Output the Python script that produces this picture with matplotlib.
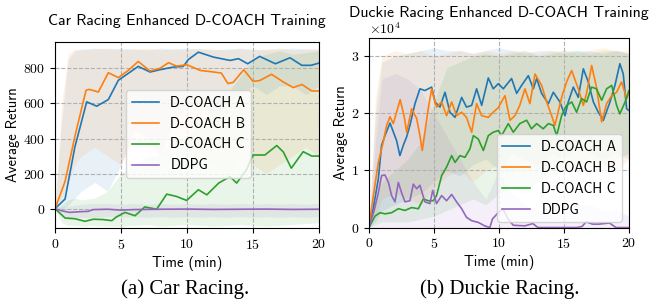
import numpy as np
import matplotlib as mpl
mpl.use("Agg")
import matplotlib.pyplot as plt

p = plt.rcParams
p["font.family"] = "cmr10"
p["mathtext.fontset"] = "cm"
p["axes.formatter.use_mathtext"] = True
p["axes.unicode_minus"] = False
p["font.size"] = 10

SANS = "cmss10"
C_A, C_B, C_C, C_D = "#1f77b4", "#ff7f0e", "#2ca02c", "#9467bd"
labels = ["D-COACH A", "D-COACH B", "D-COACH C", "DDPG"]

# ---- Car Racing (left) ----
car_t_a = [0, 0.76, 1.5, 2.4, 3.16, 4.04, 4.8, 5.7, 6.3, 7.2, 7.95, 8.96, 9.72, 10.1, 10.86,
           12, 13.26, 13.9, 14.6, 15.5, 16.7, 17.8, 18.7, 19.4, 20]
car_a = [0, 55, 350, 609, 584, 622, 732, 779, 811, 779, 792, 807, 811, 850, 892,
         864, 845, 855, 826, 868, 826, 860, 817, 817, 830]
car_t_b = [0, 0.76, 1.5, 2.35, 2.6, 3.28, 4.04, 4.8, 5.55, 6.3, 7.2, 7.95, 8.6, 9.2, 10,
           11, 12, 12.6, 13.1, 13.5, 14.3, 15.0, 15.5, 16.4, 17.3, 18.05, 18.7, 19.45, 20]
car_b = [0, 155, 410, 675, 680, 665, 775, 747, 788, 839, 785, 800, 832, 813, 820,
         788, 779, 773, 713, 720, 792, 726, 730, 766, 722, 690, 708, 671, 671]
car_t_c = [0, 0.76, 1.5, 2.27, 2.9, 3.66, 4.3, 4.65, 5.3, 6.06, 6.8, 7.7, 8.46, 9.2, 9.97,
           10.86, 11.5, 12.4, 13.26, 13.76, 14.5, 15.0, 15.9, 16.8, 17.3, 17.9, 18.8, 19.45, 20]
car_c = [0, -53, -57, -72, -60, -62, -68, -47, -21, -40, 10, -3, 83, 70, 47,
         108, 79, 146, 183, 146, 221, 306, 306, 360, 323, 231, 325, 300, 300]
car_t_d = [0, 0.5, 1.1, 1.9, 2.5, 2.9, 4, 5, 6, 8, 10, 12, 14, 16, 18, 20]
car_d = [0, -12, -21, -17, -15, -5, -3, -8, -5, -3, -2, -4, -3, -2, -4, -3]

car_tb = [0, 0.5, 1, 1.5, 2, 3, 4, 5, 6, 7, 8, 9, 10, 11, 12, 13, 14, 15, 16, 17, 18, 19, 20]
car_a_hi = [0, 500, 850, 900, 910, 915, 910, 915, 910, 905, 915, 910, 915, 910, 905, 910, 915, 910, 905, 910, 915, 910, 905]
car_a_lo = [0, 0, 20, 60, 100, 150, 100, 250, 450, 400, 300, 500, 600, 650, 500, 600, 650, 700, 650, 700, 700, 650, 700]
car_b_hi = [0, 600, 880, 910, 905, 910, 915, 905, 910, 915, 905, 910, 905, 915, 910, 905, 910, 905, 910, 915, 905, 910, 915]
car_b_lo = [0, 50, 150, 250, 300, 350, 300, 250, 400, 350, 300, 350, 400, 300, 250, 200, 300, 250, 200, 250, 300, 350, 300]
car_c_hi = [0, 20, 50, 60, 50, 60, 100, 200, 250, 300, 300, 400, 400, 500, 550, 650, 750, 850, 880, 900, 880, 890, 900]
car_c_lo = [0, -80, -95, -95, -100, -95, -100, -100, -95, -90, -100, -95, -90, -95, -100, -95, -90, -95, -100, -95, -90, -85, -80]
car_d_hi = [0, 10, 15, 20, 25, 30, 30, 25, 30, 25, 30, 25, 30, 25, 30, 25, 30, 25, 30, 25, 30, 25, 30]
car_d_lo = [0, -40, -60, -55, -50, -50, -45, -50, -45, -50, -45, -50, -45, -50, -45, -50, -45, -50, -45, -50, -45, -50, -45]

# ---- Duckie Racing (right), values in units of 1e4 ----
dk_t_a = [0, 0.3, 0.72, 0.97, 1.23, 1.62, 2.13, 2.38, 2.64, 2.9, 3.15, 3.54, 3.92, 4.3, 4.82,
          5.08, 5.46, 5.85, 6.23, 6.62, 7.13, 7.5, 7.9, 8.28, 8.67, 9.18, 9.56, 9.95, 10.33,
          10.97, 11.36, 11.74, 12.26, 12.64, 12.9, 13.28, 13.8, 14.18, 14.69, 15.08, 15.33,
          15.72, 16.1, 16.49, 16.87, 17.26, 17.64, 18.03, 18.54, 18.92, 19.3, 19.56, 19.82, 20]
dk_a = [0, 0.3, 0.85, 1.44, 1.61, 1.83, 1.52, 1.26, 1.44, 1.59, 1.79, 2.17, 2.43, 2.4, 2.46,
        2.2, 2.11, 2.37, 2.02, 1.93, 2.28, 2.11, 2.14, 2.43, 2.14, 2.62, 2.43, 2.52, 2.43,
        2.61, 2.35, 2.49, 2.66, 2.43, 2.61, 2.35, 2.17, 2.37, 2.2, 1.96, 2.2,
        2.46, 2.28, 2.78, 2.55, 2.2, 2.02, 1.88, 2.2, 2.49, 2.87, 2.69, 2.08, 2.05]
dk_t_b = [0, 0.3, 0.72, 1.1, 1.36, 1.62, 1.87, 2.4, 2.7, 2.9, 3.28, 3.67, 3.92, 4.1, 4.56,
          4.82, 5.2, 5.59, 5.97, 6.36, 6.74, 7.13, 7.5, 7.9, 8.28, 8.67, 9.18, 9.56, 9.95,
          10.46, 10.85, 11.23, 11.6, 12.0, 12.38, 12.77, 13.28, 13.67, 14.05, 14.3, 14.82,
          15.2, 15.59, 16.1, 16.49, 16.74, 17.13, 17.5, 17.9, 18.28, 18.67, 19.05, 19.43, 19.82, 20]
dk_b = [0, 0.5, 1.14, 1.5, 1.79, 1.94, 1.82, 2.24, 1.96, 1.67, 2.08, 1.91, 1.61, 1.35, 2.08,
        2.43, 2.11, 2.2, 1.96, 2.2, 1.96, 2.02, 1.93, 1.67, 2.17, 1.96, 1.93, 2.02, 2.1,
        2.31, 1.88, 1.96, 2.14, 2.43, 2.17, 2.69, 2.49, 2.2, 1.96, 1.79, 2.28,
        2.55, 2.75, 2.43, 2.14, 2.35, 2.84, 2.46, 1.85, 2.17, 2.31, 2.37, 2.55, 2.26, 2.35]
dk_t_c = [0, 0.46, 0.85, 1.23, 1.74, 2.26, 2.77, 3.28, 3.8, 4.18, 4.56, 4.95, 5.2, 5.59, 5.97,
          6.36, 6.62, 7.0, 7.38, 7.77, 8.03, 8.41, 8.8, 9.18, 9.56, 9.95, 10.2, 10.72, 11.1,
          11.6, 12.13, 12.5, 12.9, 13.4, 13.8, 14.18, 14.44, 14.82, 15.2, 15.6, 15.97, 16.36,
          16.74, 17.13, 17.5, 17.9, 18.28, 18.67, 19.05, 19.3, 19.7, 20]
dk_c = [0, 0.2, 0.26, 0.24, 0.26, 0.33, 0.3, 0.35, 0.33, 0.5, 0.47, 0.47, 0.56, 0.91, 1.06,
        1.26, 1.14, 1.26, 1.23, 1.38, 1.61, 1.55, 1.35, 1.61, 1.67, 1.70, 1.61, 1.82, 1.67,
        1.82, 1.88, 1.73, 1.82, 1.73, 1.82, 1.79, 1.61, 1.96, 2.14, 2.2, 2.02, 2.26,
        2.2, 2.46, 2.43, 2.23, 2.43, 2.49, 2.14, 1.99, 2.2, 2.4]
dk_t_d = [0, 0.4, 0.72, 0.97, 1.23, 1.5, 1.74, 2.0, 2.26, 2.51, 2.77, 3.15, 3.41, 3.67, 3.92,
          4.3, 4.69, 4.9, 5.2, 5.59, 5.97, 6.36, 6.74, 7.13, 7.5, 7.9, 8.41, 8.9, 9.3, 9.5,
          9.9, 10.3, 10.7, 11.1, 12.0, 12.6, 13.0, 14.0, 15.0, 16.0, 16.4, 16.7, 17.2, 17.7,
          18.5, 19.0, 20]
dk_d = [0, 0.3, 0.61, 0.91, 0.92, 0.79, 0.56, 0.45, 0.79, 0.61, 0.45, 0.47, 0.76, 0.68, 0.74,
        0.45, 0.42, 0.65, 0.42, 0.56, 0.47, 0.58, 0.45, 0.33, 0.18, 0.12, 0.09, 0.03, 0.0, 0.15,
        0.25, 0.33, 0.15, 0.04, 0.03, 0.07, 0.0, 0.0, 0.0, 0.0, 0.02, 0.1, 0.06, 0.06,
        0.08, 0.0, 0.0]

dk_tb = [0, 0.5, 1, 2, 3, 4, 5, 6, 7, 8, 9, 10, 11, 12, 13, 14, 15, 16, 17, 18, 19, 20]
dk_a_hi = [0, 2.0, 2.9, 3.0, 3.05, 3.1, 3.15, 3.1, 3.1, 3.05, 3.1, 3.15, 3.1, 3.05, 3.1, 3.1, 3.05, 3.1, 3.1, 3.05, 3.1, 3.05]
dk_a_lo = [0, 0.1, 0.3, 0.4, 0.5, 0.6, 0.8, 1.0, 0.9, 1.1, 1.2, 1.0, 1.3, 1.2, 1.1, 1.3, 1.2, 1.4, 1.3, 1.2, 1.3, 1.2]
dk_b_hi = [0, 2.3, 3.0, 3.1, 3.05, 3.1, 3.0, 3.05, 3.1, 3.05, 3.1, 3.05, 3.1, 3.1, 3.05, 3.1, 3.1, 3.05, 3.1, 3.15, 3.1, 3.1]
dk_b_lo = [0, 0.2, 0.5, 0.6, 0.5, 0.4, 0.7, 0.9, 1.0, 0.8, 1.0, 1.1, 0.9, 1.2, 1.0, 1.1, 1.3, 1.0, 1.2, 1.1, 1.0, 1.2]
dk_c_hi = [0, 0.5, 0.8, 1.0, 1.2, 1.5, 2.2, 2.8, 2.9, 3.0, 3.05, 3.0, 3.05, 3.1, 3.0, 3.05, 3.1, 3.1, 3.05, 3.1, 3.1, 3.05]
dk_c_lo = [0, 0.05, 0.1, 0.1, 0.1, 0.15, 0.2, 0.3, 0.4, 0.5, 0.4, 0.6, 0.7, 0.6, 0.8, 0.9, 1.0, 1.1, 1.2, 1.1, 1.2, 1.3]
dk_d_hi = [0, 1.5, 2.6, 2.7, 2.6, 2.4, 2.0, 1.6, 1.2, 0.8, 0.5, 1.0, 0.6, 0.4, 0.3, 0.2, 0.2, 0.4, 0.4, 0.3, 0.3, 0.2]
dk_d_lo = [0] * len(dk_tb)

fig = plt.figure(figsize=(6.66, 3.03), dpi=100)
ax1 = fig.add_axes([0.0826, 0.2475, 0.3964, 0.6139])
ax2 = fig.add_axes([0.554, 0.249, 0.3904, 0.6256])

def panel(ax, series, bands, tb, scale):
    cols = [C_A, C_B, C_C, C_D]
    for (lo, hi), c in zip(bands, cols):
        ax.fill_between(tb, np.array(lo) * scale, np.array(hi) * scale,
                        color=c, alpha=0.1, lw=0)
    for (t, v), c, lab in zip(series, cols, labels):
        ax.plot(t, np.array(v) * scale, c=c, lw=1.2, label=lab)
    ax.grid(True, ls="--", color="#b0b0b0", lw=0.8)
    ax.set_xlim(0, 20)
    ax.set_xticks([0, 5, 10, 15, 20])
    ax.set_xlabel("Time (min)", family=SANS, fontsize=10.5, labelpad=3)
    ax.set_ylabel("Average Return", family=SANS, fontsize=10.5, labelpad=2)

panel(ax1, [(car_t_a, car_a), (car_t_b, car_b), (car_t_c, car_c), (car_t_d, car_d)],
      [(car_a_lo, car_a_hi), (car_b_lo, car_b_hi), (car_c_lo, car_c_hi), (car_d_lo, car_d_hi)],
      car_tb, 1)
ax1.set_ylim(-110, 950)
ax1.set_yticks([0, 200, 400, 600, 800])
ax1.set_title("Car Racing Enhanced D-COACH Training", family=SANS, fontsize=11.4,
              y=1.09, pad=0)
ax1.legend(loc="lower left", bbox_to_anchor=(0.269, 0.269), borderaxespad=0,
           prop={"family": SANS, "size": 10})

panel(ax2, [(dk_t_a, dk_a), (dk_t_b, dk_b), (dk_t_c, dk_c), (dk_t_d, dk_d)],
      [(dk_a_lo, dk_a_hi), (dk_b_lo, dk_b_hi), (dk_c_lo, dk_c_hi), (dk_d_lo, dk_d_hi)],
      dk_tb, 1e4)
ax2.set_ylim(0, 3.32e4)
ax2.set_yticks([0, 1e4, 2e4, 3e4])
ax2.ticklabel_format(style="sci", axis="y", scilimits=(0, 0))
ax2.set_title("Duckie Racing Enhanced D-COACH Training", family=SANS, fontsize=11.4,
              y=1.11, pad=0)
ax2.legend(loc="lower left", bbox_to_anchor=(0.492, 0.029), borderaxespad=0,
           prop={"family": SANS, "size": 10})

fig.text(0.278, 0.046, "(a) Car Racing.", family="Liberation Serif", fontsize=15,
         ha="center", va="center")
fig.text(0.75, 0.046, "(b) Duckie Racing.", family="Liberation Serif", fontsize=15,
         ha="center", va="center")

fig.savefig("out.png", dpi=100)
